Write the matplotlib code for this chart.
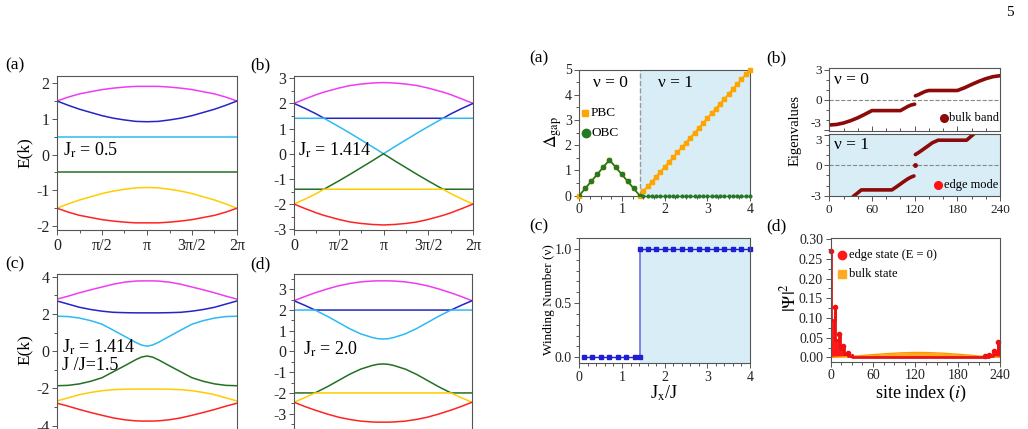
import numpy as np
import matplotlib.pyplot as plt
from matplotlib.ticker import MultipleLocator, FixedLocator
from matplotlib.lines import Line2D

plt.rcParams['font.family'] = ['Liberation Serif', 'DejaVu Serif']
plt.rcParams['mathtext.fontset'] = 'stix'
plt.rcParams['axes.unicode_minus'] = False

# ---------------- band structures (k in units of pi) ----------------
k17 = [0, 0.125, 0.25, 0.375, 0.5, 0.625, 0.75, 0.875, 1.0,
       1.125, 1.25, 1.375, 1.5, 1.625, 1.75, 1.875, 2.0]

# (a) Jr = 0.5
a_k = k17
a_mag = [1.50, 1.61, 1.70, 1.76, 1.82, 1.86, 1.89, 1.91, 1.91, 1.91, 1.89, 1.86, 1.82, 1.76, 1.70, 1.61, 1.50]
a_blue = [1.50, 1.38, 1.27, 1.18, 1.09, 1.02, 0.97, 0.93, 0.92, 0.93, 0.97, 1.02, 1.09, 1.18, 1.27, 1.38, 1.50]
a_cyan = [0.50] * 17
a_green = [-0.50] * 17
a_yel = [-1.50, -1.38, -1.27, -1.18, -1.09, -1.02, -0.97, -0.93, -0.92, -0.93, -0.97, -1.02, -1.09, -1.18, -1.27, -1.38, -1.50]
a_red = [-1.50, -1.61, -1.70, -1.76, -1.82, -1.86, -1.89, -1.91, -1.91, -1.91, -1.89, -1.86, -1.82, -1.76, -1.70, -1.61, -1.50]

# (b) Jr = 1.414
b_k = [0, 0.125, 0.25, 0.335, 0.5, 0.625, 0.75, 0.875, 1.0,
       1.125, 1.25, 1.375, 1.5, 1.665, 1.75, 1.875, 2.0]
b_mag = [2.00, 2.18, 2.35, 2.45, 2.61, 2.71, 2.77, 2.81, 2.83, 2.81, 2.77, 2.71, 2.61, 2.45, 2.35, 2.18, 2.00]
b_blue = [2.00, 1.80, 1.58, 1.41, 1.41, 1.41, 1.41, 1.41, 1.41, 1.41, 1.41, 1.41, 1.41, 1.41, 1.58, 1.80, 2.00]
b_cyan = [1.41, 1.41, 1.41, 1.41, 1.08, 0.82, 0.55, 0.28, 0.00, 0.28, 0.55, 0.82, 1.08, 1.41, 1.41, 1.41, 1.41]
b_green = [-1.41, -1.41, -1.41, -1.41, -1.08, -0.82, -0.55, -0.28, 0.00, -0.28, -0.55, -0.82, -1.08, -1.41, -1.41, -1.41, -1.41]
b_yel = [-2.00, -1.80, -1.58, -1.41, -1.41, -1.41, -1.41, -1.41, -1.41, -1.41, -1.41, -1.41, -1.41, -1.41, -1.58, -1.80, -2.00]
b_red = [-2.00, -2.18, -2.35, -2.45, -2.61, -2.71, -2.77, -2.81, -2.83, -2.81, -2.77, -2.71, -2.61, -2.45, -2.35, -2.18, -2.00]

# (c) Jr = 1.414, Jx/J = 1.5
c_k = [0, 0.125, 0.25, 0.375, 0.5, 0.625, 0.75, 0.875, 0.9375, 1.0, 1.0625,
       1.125, 1.25, 1.375, 1.5, 1.625, 1.75, 1.875, 2.0]
c_mag = [2.80, 2.96, 3.14, 3.30, 3.45, 3.60, 3.71, 3.77, 3.78, 3.78, 3.78, 3.77, 3.71, 3.60, 3.45, 3.30, 3.14, 2.96, 2.80]
c_blue = [2.70, 2.53, 2.36, 2.24, 2.15, 2.09, 2.07, 2.06, 2.06, 2.06, 2.06, 2.06, 2.07, 2.09, 2.15, 2.24, 2.36, 2.53, 2.70]
c_cyan = [1.88, 1.86, 1.78, 1.64, 1.45, 1.13, 0.80, 0.47, 0.33, 0.27, 0.33, 0.47, 0.80, 1.13, 1.45, 1.64, 1.78, 1.86, 1.88]
c_green = [-1.86, -1.84, -1.76, -1.62, -1.43, -1.11, -0.79, -0.46, -0.32, -0.26, -0.32, -0.46, -0.79, -1.11, -1.43, -1.62, -1.76, -1.84, -1.86]
c_yel = [-2.68, -2.51, -2.34, -2.22, -2.13, -2.07, -2.05, -2.04, -2.04, -2.04, -2.04, -2.04, -2.05, -2.07, -2.13, -2.22, -2.34, -2.51, -2.68]
c_red = [-2.80, -2.96, -3.14, -3.30, -3.45, -3.59, -3.69, -3.75, -3.76, -3.76, -3.76, -3.75, -3.69, -3.59, -3.45, -3.30, -3.14, -2.96, -2.80]

# (d) Jr = 2.0
d_k = [0, 0.125, 0.236, 0.375, 0.5, 0.625, 0.75, 0.875, 0.9375, 1.0, 1.0625,
       1.125, 1.25, 1.375, 1.5, 1.625, 1.764, 1.875, 2.0]
d_mag = [2.45, 2.66, 2.83, 3.02, 3.17, 3.28, 3.36, 3.40, 3.41, 3.41, 3.41, 3.40, 3.36, 3.28, 3.17, 3.02, 2.83, 2.66, 2.45]
d_blue = [2.45, 2.22, 2.00, 2.00, 2.00, 2.00, 2.00, 2.00, 2.00, 2.00, 2.00, 2.00, 2.00, 2.00, 2.00, 2.00, 2.00, 2.22, 2.45]
d_cyan = [2.00, 2.00, 2.00, 1.70, 1.40, 1.10, 0.85, 0.68, 0.62, 0.60, 0.62, 0.68, 0.85, 1.10, 1.40, 1.70, 2.00, 2.00, 2.00]
d_green = [-2.00, -2.00, -2.00, -1.70, -1.40, -1.10, -0.85, -0.68, -0.62, -0.60, -0.62, -0.68, -0.85, -1.10, -1.40, -1.70, -2.00, -2.00, -2.00]
d_yel = [-2.45, -2.22, -2.00, -2.00, -2.00, -2.00, -2.00, -2.00, -2.00, -2.00, -2.00, -2.00, -2.00, -2.00, -2.00, -2.00, -2.00, -2.22, -2.45]
d_red = [-2.45, -2.66, -2.83, -3.02, -3.17, -3.28, -3.36, -3.40, -3.41, -3.41, -3.41, -3.40, -3.36, -3.28, -3.17, -3.02, -2.83, -2.66, -2.45]

band_colors = ['#f03cf0', '#2424c8', '#2cbaf5', '#237023', '#ffcc00', '#ff2222']

# ---------------- gap vs Jx/J ----------------
gap_x_left = [0, 0.141, 0.283, 0.424, 0.566, 0.707, 0.849, 0.990, 1.131, 1.273, 1.414]
gap_y_left = [0, 0.283, 0.566, 0.849, 1.131, 1.414, 1.131, 0.849, 0.566, 0.283, 0]
gap_x_right = [1.5, 1.6, 1.7, 1.8, 1.9, 2.0, 2.1, 2.2, 2.3, 2.4, 2.5, 2.6, 2.7,
               2.8, 2.9, 3.0, 3.1, 3.2, 3.3, 3.4, 3.5, 3.6, 3.7, 3.8, 3.9, 4.0]
pbc_y_right = [0.17, 0.36, 0.55, 0.75, 0.94, 1.13, 1.33, 1.52, 1.71, 1.91, 2.10, 2.29, 2.49,
               2.68, 2.87, 3.07, 3.26, 3.45, 3.65, 3.84, 4.03, 4.23, 4.42, 4.61, 4.81, 5.00]
obc_y_right = [0.0] * 26

# ---------------- winding number ----------------
wind_x0 = [0.1, 0.3, 0.5, 0.7, 0.9, 1.1, 1.3, 1.414]
wind_y0 = [0, 0, 0, 0, 0, 0, 0, 0]
wind_x1 = [1.414, 1.6, 1.8, 2.0, 2.2, 2.4, 2.6, 2.8, 3.0, 3.2, 3.4, 3.6, 3.8, 4.0]
wind_y1 = [1] * 14

# ---------------- OBC eigenvalues ----------------
ev0_lo_x = [0, 10, 20, 30, 40, 50, 60, 100, 105, 110, 115, 120]
ev0_lo_y = [-2.50, -2.45, -2.30, -2.07, -1.78, -1.43, -1.06, -1.06, -0.86, -0.66, -0.50, -0.42]
ev0_hi_x = [121, 125, 130, 135, 140, 180, 190, 200, 210, 220, 230, 240]
ev0_hi_y = [0.42, 0.52, 0.70, 0.86, 0.95, 0.95, 1.22, 1.55, 1.86, 2.13, 2.33, 2.43]
ev1_lo_x = [28, 34, 40, 45, 88, 95, 100, 105, 110, 115, 119]
ev1_lo_y = [-3.60, -3.05, -2.72, -2.43, -2.43, -2.10, -1.85, -1.60, -1.36, -1.17, -1.06]
ev1_hi_x = [121, 125, 130, 135, 140, 145, 153, 193, 198, 203, 208]
ev1_hi_y = [1.05, 1.22, 1.46, 1.71, 1.96, 2.21, 2.46, 2.46, 2.76, 3.06, 3.40]
ev1_edge_x = [120]
ev1_edge_y = [0.0]

# ---------------- |Psi|^2 ----------------
edge_sites = list(range(0, 37)) + list(range(210, 241))
edge_vals = [0.270, 0.094, 0.094, 0.094, 0.094, 0.094, 0.128, 0.045, 0.045, 0.045,
             0.045, 0.045, 0.060, 0.021, 0.021, 0.021, 0.021, 0.021, 0.028, 0.009,
             0.009, 0.009, 0.009, 0.009, 0.012, 0.004, 0.004, 0.004, 0.004, 0.004,
             0.005, 0.002, 0.002, 0.002, 0.002, 0.002, 0.002,
             0.001, 0.001, 0.001, 0.001, 0.001, 0.001, 0.001, 0.001, 0.001, 0.003,
             0.0015, 0.0015, 0.0015, 0.0015, 0.0015, 0.007, 0.003, 0.003, 0.003, 0.003,
             0.003, 0.017, 0.008, 0.008, 0.008, 0.008, 0.008, 0.038, 0.013, 0.013, 0.013]
edge_peak_x = [0, 6, 12, 18, 24, 219, 225, 231, 237]
edge_peak_y = [0.270, 0.128, 0.060, 0.028, 0.012, 0.003, 0.007, 0.017, 0.038]
bulk_sites = [0, 20, 40, 60, 80, 100, 120, 140, 160, 180, 200, 220, 240]
bulk_vals = [0.0, 0.0015, 0.004, 0.007, 0.0095, 0.0115, 0.0125, 0.012, 0.0105, 0.008, 0.005, 0.002, 0.0]

# ---------------- figure ----------------
W, H = 1028, 429
fig = plt.figure(figsize=(W / 100, H / 100), dpi=100)


def px_axes(x0, y0, x1, y1):
    return fig.add_axes([x0 / W, 1 - y1 / H, (x1 - x0) / W, (y1 - y0) / H])


def px_text(x, y, s, **kw):
    kw.setdefault('va', 'center')
    fig.text(x / W, 1 - y / H, s, **kw)


def px_marker(x, y, **kw):
    fig.add_artist(Line2D([x / W], [1 - y / H], transform=fig.transFigure, ls='none', **kw))


SPINE = '#555555'


def style(ax, size):
    for s in ax.spines.values():
        s.set_color(SPINE)
        s.set_linewidth(0.8)
    ax.tick_params(which='both', direction='out', color=SPINE, labelcolor='#222222',
                   labelsize=size, width=0.7, pad=2)
    ax.tick_params(which='major', length=3.5)
    ax.tick_params(which='minor', length=2)


# left: band structures
panels = [
    ((57, 76, 237, 230), a_k, [a_mag, a_blue, a_cyan, a_green, a_yel, a_red], (-2.11, 2.2),
     [-2, -1, 0, 1, 2], 0.5, r'J$_\mathrm{r}$ = 0.5', (63, 150), True),
    ((294, 76, 473, 230), b_k, [b_mag, b_blue, b_cyan, b_green, b_yel, b_red], (-3.03, 3.09),
     [-3, -2, -1, 0, 1, 2, 3], 0.5, r'J$_\mathrm{r}$ = 1.414', (298, 150), True),
    ((57, 274, 237, 435), c_k, [c_mag, c_blue, c_cyan, c_green, c_yel, c_red], (-4.51, 4.15),
     [-4, -2, 0, 2, 4], 1, r'J$_\mathrm{r}$ = 1.414', (62, 347), False),
    ((294, 274, 472, 435), d_k, [d_mag, d_blue, d_cyan, d_green, d_yel, d_red], (-4.03, 3.74),
     [-3, -2, -1, 0, 1, 2, 3], 0.5, r'J$_\mathrm{r}$ = 2.0', (303, 349), False),
]
for box, ks, bands, ylim, yticks, minor, label, lpos, xlab in panels:
    ax = px_axes(*box)
    for vals, col in zip(bands, band_colors):
        ax.plot(ks, vals, color=col, lw=1.1)
    ax.set_xlim(0, 2)
    ax.set_ylim(*ylim)
    ax.xaxis.set_major_locator(FixedLocator([0, 0.5, 1, 1.5, 2]))
    if xlab:
        ax.set_xticklabels(['0', 'π/2', 'π', '3π/2', '2π'])
    else:
        ax.set_xticklabels([])
    ax.xaxis.set_minor_locator(MultipleLocator(0.25))
    ax.yaxis.set_major_locator(FixedLocator(yticks))
    ax.yaxis.set_minor_locator(MultipleLocator(minor))
    style(ax, 11.5)
    px_text(lpos[0], lpos[1], label, fontsize=13)

px_text(62, 366, 'J /J=1.5', fontsize=13)
px_text(25, 153, 'E(k)', fontsize=12.5, rotation=90, ha='center')
px_text(25, 350, 'E(k)', fontsize=12.5, rotation=90, ha='center')
for s, x, y in [('(a)', 15, 65), ('(b)', 260, 65), ('(c)', 15, 264), ('(d)', 260, 264)]:
    px_text(x, y, s, fontsize=12.5, ha='center')

SHADE = '#d8edf6'

# right (a): gap
ax = px_axes(579.3, 69.5, 750, 195.5)
ax.axvspan(1.414, 4, color=SHADE, lw=0)
ax.axvline(1.414, color='#999999', ls='--', lw=1)
ax.plot(gap_x_left + gap_x_right, gap_y_left + pbc_y_right, color='#ffa500', lw=1.2,
        marker='s', ms=3.0, mec='#ffa500', clip_on=False, zorder=3)
ax.plot(gap_x_left, gap_y_left, color='#237a23', lw=1.2, marker='o', ms=3.0, zorder=4)
ax.plot(gap_x_right, obc_y_right, color='#237a23', lw=1.0, ls=':', marker='o', ms=2.0,
        clip_on=False, zorder=4)
ax.set_xlim(0, 4)
ax.set_ylim(0, 5)
ax.xaxis.set_major_locator(MultipleLocator(1))
ax.xaxis.set_minor_locator(MultipleLocator(0.25))
ax.yaxis.set_major_locator(MultipleLocator(1))
ax.yaxis.set_minor_locator(MultipleLocator(0.5))
style(ax, 10)
px_text(610, 83, 'ν = 0', fontsize=12.5, ha='center')
px_text(676, 83, 'ν = 1', fontsize=12.5, ha='center')
px_marker(585, 113, marker='s', ms=5, color='#ffa500')
px_text(591, 113, 'PBC', fontsize=9.5)
px_marker(586, 133, marker='o', ms=6, color='#237a23')
px_text(592, 133, 'OBC', fontsize=9.5)
px_text(553, 132, r'$\Delta_{\mathrm{gap}}$', fontsize=12.5, rotation=90, ha='center')

# right (c): winding number
ax = px_axes(579.3, 238, 750, 363.3)
ax.axvspan(1.414, 4, color=SHADE, lw=0)
ax.plot([1.414, 1.414], [0, 1], color='#6f6fe6', lw=1.2)
ax.plot(wind_x0, wind_y0, color='#1e1ed2', lw=1.0, marker='s', ms=2.6)
ax.plot(wind_x1, wind_y1, color='#1e1ed2', lw=1.0, marker='s', ms=2.6, clip_on=False)
ax.set_xlim(0, 4)
ax.set_ylim(-0.055, 1.1)
ax.xaxis.set_major_locator(MultipleLocator(1))
ax.xaxis.set_minor_locator(MultipleLocator(0.2))
ax.yaxis.set_major_locator(MultipleLocator(0.5))
ax.yaxis.set_minor_locator(MultipleLocator(0.1))
ax.yaxis.set_major_formatter(plt.FormatStrFormatter('%.1f'))
style(ax, 10)
px_text(549, 300, 'Winding Number (ν)', fontsize=9.5, rotation=90, ha='center')
px_text(664, 393, r'J$_\mathrm{x}$/J', fontsize=13, ha='center')

# right (b): eigenvalues
EV = '#8c0a0a'
ax_u = px_axes(829.3, 68, 1000, 130.5)
ax_u.axhline(0, color='#888888', ls='--', lw=0.8)
ax_u.plot(ev0_lo_x, ev0_lo_y, color=EV, lw=2.6, solid_capstyle='round')
ax_u.plot(ev0_hi_x, ev0_hi_y, color=EV, lw=2.6, solid_capstyle='round')
ax_u.set_xlim(0, 240)
ax_u.set_ylim(-3.05, 3.2)
ax_u.set_xticklabels([])
ax_l = px_axes(829.3, 134, 1000, 196)
ax_l.set_facecolor(SHADE)
ax_l.axhline(0, color='#888888', ls='--', lw=0.8)
ax_l.plot(ev1_lo_x, ev1_lo_y, color=EV, lw=2.6, solid_capstyle='round')
ax_l.plot(ev1_hi_x, ev1_hi_y, color=EV, lw=2.6, solid_capstyle='round')
ax_l.plot(ev1_edge_x, ev1_edge_y, color=EV, marker='o', ms=2.5, ls='none')
ax_l.set_xlim(0, 240)
ax_l.set_ylim(-3.03, 3.07)
for ax in (ax_u, ax_l):
    ax.xaxis.set_major_locator(FixedLocator([0, 60, 120, 180, 240]))
    ax.xaxis.set_minor_locator(MultipleLocator(20))
    ax.yaxis.set_major_locator(FixedLocator([-3, 0, 3]))
    ax.yaxis.set_minor_locator(MultipleLocator(1))
    style(ax, 9.5)
ax_u.tick_params(axis='x', which='both', direction='in')
ax_u.set_yticklabels(['-3', '0', '3'])
ax_l.set_yticklabels(['-3', '0', '3'])
ax_u.get_yticklabels()[0].set_va('bottom')
ax_l.get_yticklabels()[2].set_va('top')
px_text(851, 80, 'ν = 0', fontsize=12.5, ha='center')
px_text(851, 145, 'ν = 1', fontsize=12.5, ha='center')
px_marker(944, 118, marker='o', ms=5.5, color=EV)
px_text(949, 118, 'bulk band', fontsize=9)
px_marker(938, 185, marker='o', ms=5.5, color='#ff1010')
px_text(944, 185, 'edge mode', fontsize=9)
px_text(795, 130, 'Eigenvalues', fontsize=10.5, rotation=90, ha='center')

# right (d): |Psi|^2
ax = px_axes(830.7, 238, 1000, 361.7)
ax.fill_between(bulk_sites, bulk_vals, color='#ffaa22', lw=0)
ax.plot(bulk_sites, bulk_vals, color='#ff9900', lw=1.0)
ax.fill_between(edge_sites, edge_vals, step='mid', color='#ff1a1a', lw=0)
ax.plot(edge_sites, edge_vals, drawstyle='steps-mid', color='#ee1111', lw=2.0)
ax.plot(edge_peak_x, edge_peak_y, 'o', color='#ee1111', ms=3, clip_on=False)
ax.set_xlim(0, 240)
ax.set_ylim(-0.011, 0.303)
ax.xaxis.set_major_locator(MultipleLocator(60))
ax.xaxis.set_minor_locator(MultipleLocator(15))
ax.yaxis.set_major_locator(MultipleLocator(0.05))
ax.yaxis.set_minor_locator(MultipleLocator(0.025))
ax.yaxis.set_major_formatter(plt.FormatStrFormatter('%.2f'))
style(ax, 10)
px_marker(842, 255, marker='o', ms=6, color='#ff1a1a')
px_text(849, 255, 'edge state (E = 0)', fontsize=9)
px_marker(842, 274, marker='s', ms=5.5, color='#ffaa22')
px_text(849, 274, 'bulk state', fontsize=9)
px_text(789, 298, r'$|\Psi|^2$', fontsize=13, rotation=90, ha='center')
px_text(921, 393, r'site index ($i$)', fontsize=13, ha='center')

for s, x, y in [('(a)', 539, 58), ('(b)', 776, 58), ('(c)', 539, 226), ('(d)', 776, 226)]:
    px_text(x, y, s, fontsize=12.5, ha='center')
px_text(1010, 12, '5', fontsize=11, ha='center')

fig.savefig('out.png', dpi=100)
